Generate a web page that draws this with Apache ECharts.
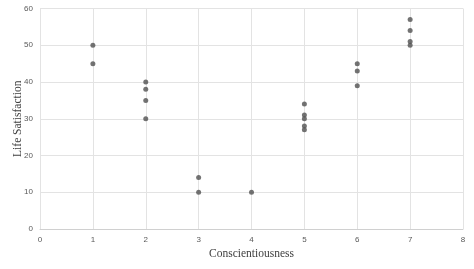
<!DOCTYPE html>
<html><head><meta charset="utf-8">
<script src="https://cdn.jsdelivr.net/npm/echarts@6/dist/echarts.min.js"></script>
<style>html,body{margin:0;padding:0;background:#fff}#c{width:474px;height:269px}</style>
</head><body><div id="c"></div>
<script>
const conscientiousness = [1,1, 2,2,2,2, 3,3, 4, 5,5,5,5,5, 6,6,6, 7,7,7,7];
const lifeSatisfaction  = [50,45, 40,38,35,30, 14,10, 10, 34,31,30,28,27, 45,43,39, 57,54,51,50];
const xTicks = [0,1,2,3,4,5,6,7,8];
const yTicks = [0,10,20,30,40,50,60];

const data = conscientiousness.map((x,i)=>[x, lifeSatisfaction[i]]);
const chart = echarts.init(document.getElementById('c'), null, {renderer:'canvas'});
chart.setOption({
  animation:false,
  grid:{left:40, right:11, top:8.5, bottom:40, containLabel:false, outerBoundsMode:'none'},
  xAxis:{type:'value', min:xTicks[0], max:xTicks[xTicks.length-1], interval:1,
    name:'Conscientiousness', nameLocation:'middle', nameGap:19, nameMoveOverlap:false,
    nameTextStyle:{fontFamily:'Liberation Serif', fontSize:11.5, color:'#404040'},
    axisLine:{show:true, lineStyle:{color:'#d0d0d0'}}, axisTick:{show:false},
    axisLabel:{fontSize:8, color:'#595959', fontFamily:'Liberation Sans', margin:7},
    splitLine:{show:true, lineStyle:{color:'#e3e3e3'}}},
  yAxis:{type:'value', min:yTicks[0], max:yTicks[yTicks.length-1], interval:10,
    name:'Life Satisfaction', nameLocation:'middle', nameGap:16, nameMoveOverlap:false,
    nameTextStyle:{fontFamily:'Liberation Serif', fontSize:11.5, color:'#404040'},
    axisLine:{show:true, lineStyle:{color:'#e3e3e3'}}, axisTick:{show:false},
    axisLabel:{fontSize:8, color:'#595959', fontFamily:'Liberation Sans', margin:7},
    splitLine:{show:true, lineStyle:{color:'#e3e3e3'}}},
  series:[{type:'scatter', data:data, symbolSize:5, itemStyle:{color:'#505050'}}]
});
</script></body></html>
